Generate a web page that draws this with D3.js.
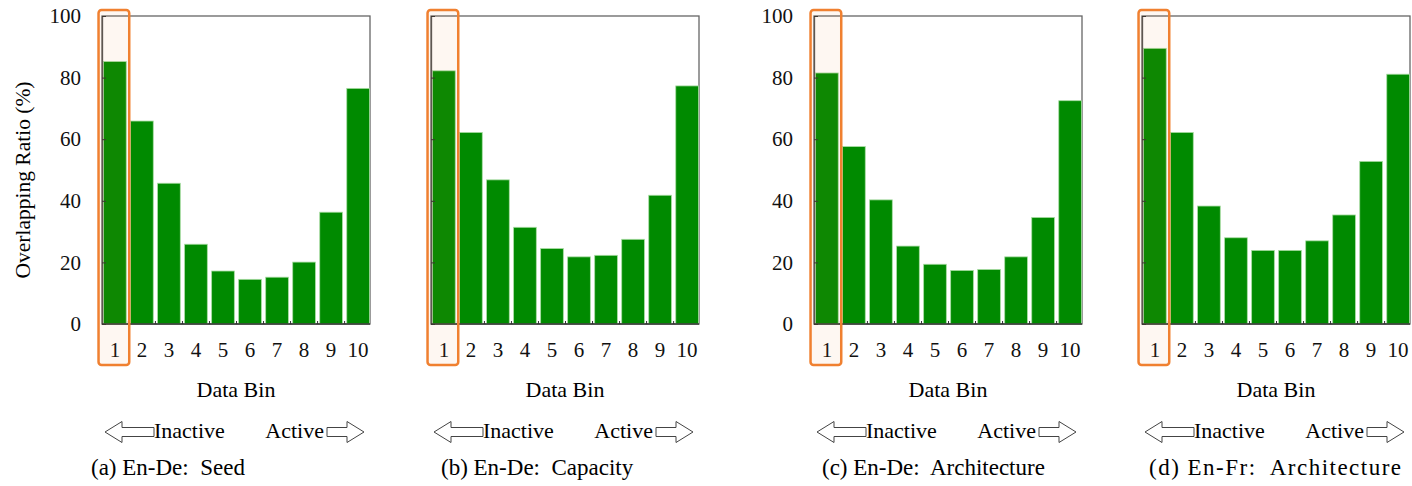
<!DOCTYPE html>
<html>
<head>
<meta charset="utf-8">
<script src="https://cdn.jsdelivr.net/npm/d3@7"></script>
<style>
  body { margin: 0; background: #fff; }
  svg { display: block; font-family: "Liberation Serif", "DejaVu Serif", serif; }
</style>
</head>
<body>
<div id="svgcontainer"></div>
<script>
// data
var bins = ["1", "2", "3", "4", "5", "6", "7", "8", "9", "10"];
var yTicks = [0, 20, 40, 60, 80, 100];
var seedRatio = [85.2, 65.9, 45.7, 25.9, 17.2, 14.5, 15.2, 20.1, 36.3, 76.5];
var capacityRatio = [82.2, 62.2, 46.8, 31.4, 24.5, 21.8, 22.3, 27.5, 41.8, 77.3];
var archDeRatio = [81.5, 57.6, 40.3, 25.3, 19.4, 17.4, 17.7, 21.8, 34.6, 72.5];
var archFrRatio = [89.5, 62.2, 38.3, 28.0, 23.9, 23.9, 27.0, 35.4, 52.8, 81.1];
var captions = ["(a) En-De:\u00a0 Seed", "(b) En-De:\u00a0 Capacity", "(c) En-De:\u00a0 Architecture", "(d) En-Fr:\u00a0 Architecture"];

var W = 1412, H = 486,
    plotTop = 16, plotBottom = 324, pw = 268;

var panels = [
  {left: 102, values: seedRatio, labels: true, cap: captions[0], capX: 91, capW: null},
  {left: 431, values: capacityRatio, labels: false, cap: captions[1], capX: 441, capW: null},
  {left: 814, values: archDeRatio, labels: true, cap: captions[2], capX: 822, capW: null},
  {left: 1142, values: archFrRatio, labels: false, cap: captions[3], capX: 1149, capW: 252}
];

var svg = d3.select("div#svgcontainer")
  .append("svg")
  .attr("width", W)
  .attr("height", H);

var y = d3.scaleLinear().domain([0, 100]).range([plotBottom, plotTop]);

svg.append("text")
  .attr("transform", "translate(22," + ((plotTop + plotBottom) / 2 + 10) + ") rotate(-90)")
  .attr("text-anchor", "middle")
  .attr("dy", "0.35em")
  .style("font-size", "21.5px")
  .text("Overlapping Ratio (%)");

// block arrow, pointing left (dir=-1) or right (dir=1)
function arrow(g, tipX, cy, dir, shaft) {
  var head = 17, hh = 10.5, sh = 4.5;
  var pts = [
    [tipX, cy],
    [tipX - dir * head, cy - hh],
    [tipX - dir * head, cy - sh],
    [tipX - dir * (head + shaft), cy - sh],
    [tipX - dir * (head + shaft), cy + sh],
    [tipX - dir * head, cy + sh],
    [tipX - dir * head, cy + hh]
  ];
  g.append("path")
    .attr("d", d3.line()(pts) + "Z")
    .attr("fill", "#fff")
    .attr("stroke", "#444")
    .attr("stroke-width", 1);
}

panels.forEach(function(p) {
  var x = d3.scaleBand()
    .domain(bins)
    .range([p.left + 1, p.left + pw])
    .paddingInner(0.16)
    .paddingOuter(0.02);

  var g = svg.append("g");

  // frame
  g.append("rect")
    .attr("x", p.left).attr("y", plotTop)
    .attr("width", pw).attr("height", plotBottom - plotTop)
    .attr("fill", "none")
    .attr("stroke", "#666")
    .attr("stroke-width", 1.3);

  g.selectAll(".bar")
    .data(p.values)
    .enter().append("rect")
    .attr("class", "bar")
    .attr("x", function(d, i) { return x(bins[i]); })
    .attr("y", function(d) { return y(d); })
    .attr("width", x.bandwidth())
    .attr("height", function(d) { return plotBottom - y(d); })
    .attr("fill", "#008a00")
    .attr("stroke", "#a8dca2")
    .attr("stroke-width", 0.8);

  // y axis with inward ticks
  var ya = d3.axisLeft(y).tickValues(yTicks).tickSize(-4).tickSizeOuter(0).tickPadding(21);
  if (!p.labels) ya.tickFormat("");
  var yg = g.append("g")
    .attr("transform", "translate(" + p.left + ",0)")
    .call(ya)
    .attr("font-family", null)
    .attr("font-size", null);
  yg.select(".domain").attr("stroke", "#555").attr("stroke-width", 1.3);
  yg.selectAll(".tick line").attr("stroke", "#333");
  yg.selectAll("text").style("font-size", "21px").attr("fill", "#111");

  // x axis, labels under bars
  var xg = g.append("g")
    .attr("transform", "translate(0," + plotBottom + ")")
    .call(d3.axisBottom(x).tickSize(0).tickPadding(18))
    .attr("font-family", null)
    .attr("font-size", null);
  xg.select(".domain").attr("d", "M" + p.left + ",0H" + (p.left + pw))
    .attr("stroke", "#333").attr("stroke-width", 1.3);
  xg.selectAll("text").style("font-size", "21px").attr("fill", "#111");

  // small ticks in the gaps between bars
  var gap = x.step() - x.bandwidth();
  g.selectAll(".gaptick")
    .data(bins.slice(0, bins.length - 1))
    .enter().append("line")
    .attr("x1", function(d) { return x(d) + x.bandwidth() + gap / 2; })
    .attr("x2", function(d) { return x(d) + x.bandwidth() + gap / 2; })
    .attr("y1", plotBottom).attr("y2", plotBottom - 3)
    .attr("stroke", "#333");

  // highlight box around bin 1
  g.append("rect")
    .attr("x", x(bins[0]) - 5)
    .attr("y", plotTop - 6)
    .attr("width", x.bandwidth() + 8)
    .attr("height", 365 - (plotTop - 6))
    .attr("rx", 3)
    .attr("fill", "rgba(240,120,40,0.06)")
    .attr("stroke", "#f08030")
    .attr("stroke-width", 2.5);

  g.append("text")
    .attr("x", p.left + pw / 2)
    .attr("y", 397)
    .attr("text-anchor", "middle")
    .style("font-size", "22px")
    .text("Data Bin");

  arrow(g, p.left + 3, 432, -1, 32);
  g.append("text")
    .attr("x", p.left + 52)
    .attr("y", 438)
    .style("font-size", "22px")
    .text("Inactive");
  g.append("text")
    .attr("x", p.left + 222)
    .attr("y", 438)
    .attr("text-anchor", "end")
    .style("font-size", "22px")
    .text("Active");
  arrow(g, p.left + 262, 432, 1, 20);

  var cap = g.append("text")
    .attr("x", p.capX)
    .attr("y", 475)
    .style("font-size", "23px")
    .text(p.cap);
  if (p.capW) cap.attr("textLength", p.capW).attr("lengthAdjust", "spacing");
});
</script>
</body>
</html>
